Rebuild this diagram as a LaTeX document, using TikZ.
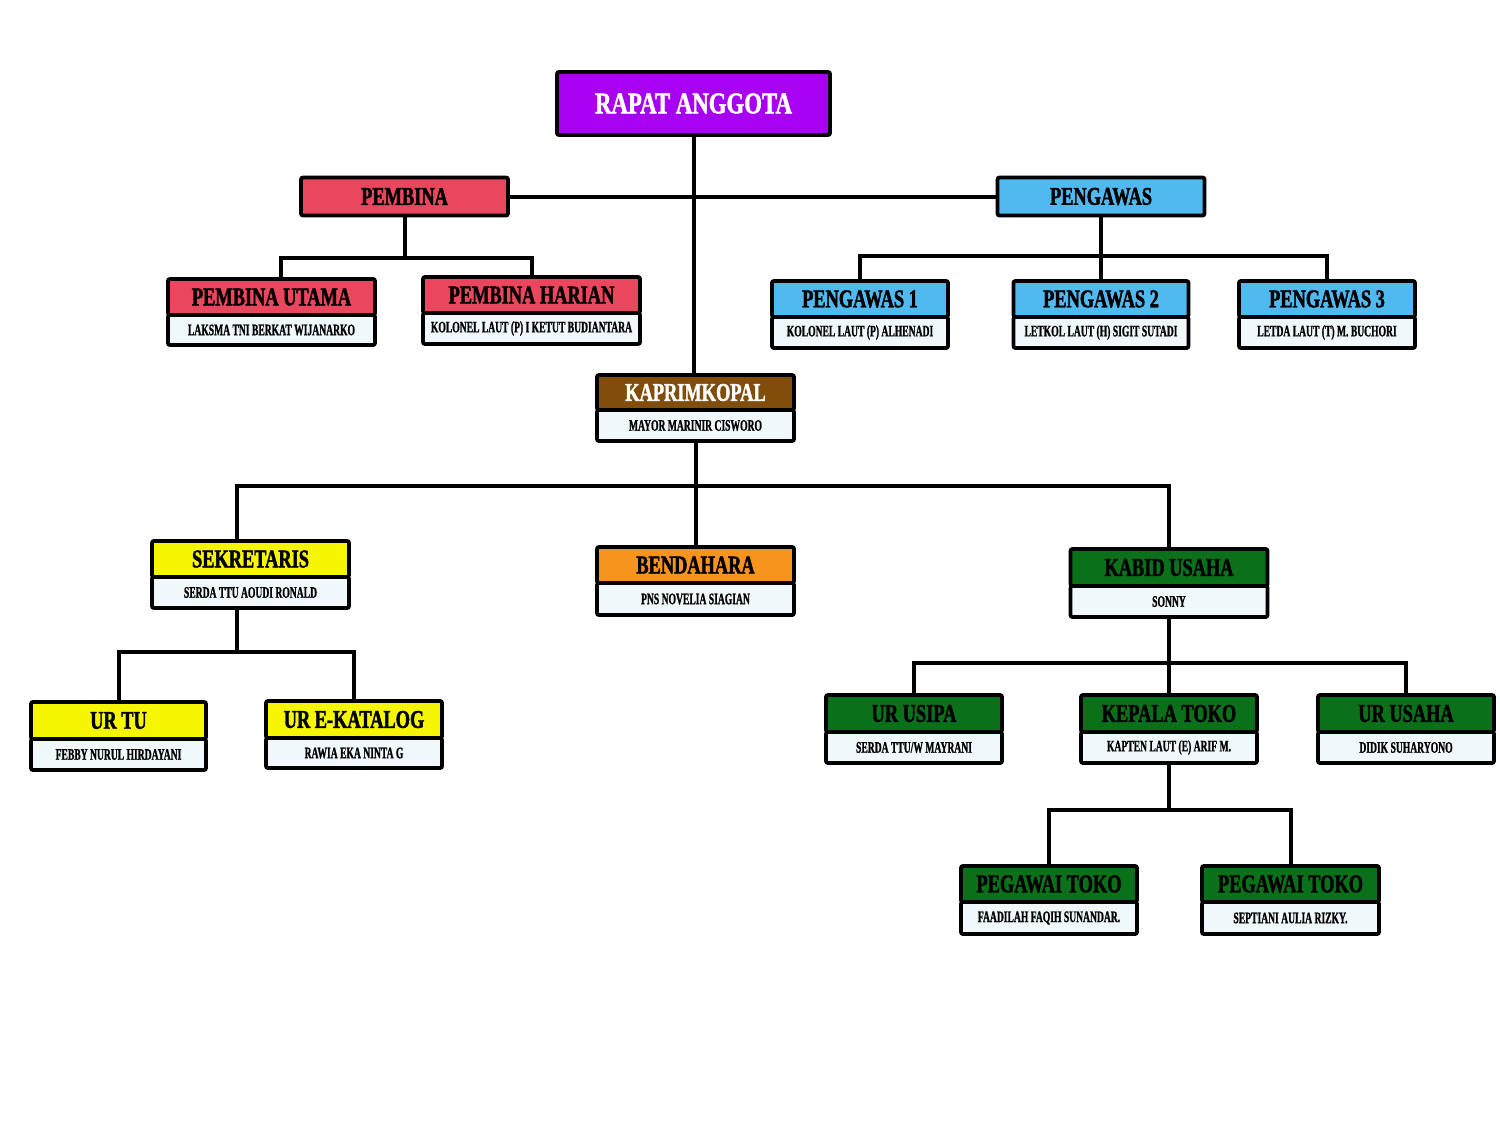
\documentclass[tikz,border=0pt]{standalone}
\usepackage{fontspec}
\newfontfamily\tfont{Liberation Serif}[FakeStretch=0.72,FakeBold=1.6]
\newfontfamily\rfont{Liberation Serif}[FakeStretch=0.76,FakeBold=1.6]
\newfontfamily\sfont{Liberation Serif}[FakeStretch=0.6,FakeBold=1]
\definecolor{cPurple}{RGB}{168,0,240}
\definecolor{cRed}{RGB}{234,70,94}
\definecolor{cBlue}{RGB}{80,186,240}
\definecolor{cBrown}{RGB}{128,78,10}
\definecolor{cYellow}{RGB}{246,246,0}
\definecolor{cOrange}{RGB}{247,148,29}
\definecolor{cGreen}{RGB}{10,112,26}
\definecolor{cSub}{RGB}{240,248,252}
\newcommand\orgbox[9]{%
  \node[hdr,#7,minimum width=#4,minimum height=#5,anchor=north] (#1) at (#2,#3) {#8};
  \node[subb,minimum width=#4,minimum height=#6,anchor=north] (#1s) at (#1.south) {#9};
}
\begin{document}
\begin{tikzpicture}[x=1pt,y=-1pt,
  conn/.style={line width=4pt},
  hdr/.style={draw,line width=3.8pt,rounded corners=2pt,inner sep=0pt,outer sep=0pt,font=\tfont\bfseries\fontsize{25.5}{27}\selectfont},
  subb/.style={draw,line width=3.8pt,rounded corners=2pt,fill=cSub,inner sep=0pt,outer sep=0pt,font=\sfont\bfseries\fontsize{16}{18}\selectfont}]
\fill[white] (0,0) rectangle (1500,1125);
\useasboundingbox (0,0) rectangle (1500,1125);

% top level
\node[hdr,fill=cPurple,text=white,minimum width=273,minimum height=63,font=\rfont\bfseries\fontsize{30}{32}\selectfont] (rapat) at (693.5,103.5) {RAPAT ANGGOTA};
\node[hdr,fill=cRed,minimum width=207,minimum height=38] (pembina) at (404.5,196.5) {PEMBINA};
\node[hdr,fill=cBlue,minimum width=207,minimum height=38] (pengawas) at (1101,196.5) {PENGAWAS};

% pembina children
\orgbox{pu}{271.5}{279}{207}{36}{30}{fill=cRed}{PEMBINA UTAMA}{LAKSMA TNI BERKAT WIJANARKO}
\orgbox{ph}{531.5}{277}{217}{36}{31}{fill=cRed}{PEMBINA HARIAN}{KOLONEL LAUT (P) I KETUT BUDIANTARA}

% pengawas children
\orgbox{pa}{860}{281}{176}{36}{31}{fill=cBlue}{PENGAWAS 1}{KOLONEL LAUT (P) ALHENADI}
\orgbox{pb}{1101}{281}{175}{36}{31}{fill=cBlue}{PENGAWAS 2}{LETKOL LAUT (H) SIGIT SUTADI}
\orgbox{pc}{1327}{281}{176}{36}{31}{fill=cBlue}{PENGAWAS 3}{LETDA LAUT (T) M. BUCHORI}

% kaprimkopal
\orgbox{kap}{695.5}{375}{197}{35}{31}{fill=cBrown,text=white}{KAPRIMKOPAL}{MAYOR MARINIR CISWORO}

% level 2
\orgbox{sek}{250.5}{541}{197}{36}{31}{fill=cYellow}{SEKRETARIS}{SERDA TTU AOUDI RONALD}
\orgbox{ben}{695.5}{547}{197}{36}{32}{fill=cOrange}{BENDAHARA}{PNS NOVELIA SIAGIAN}
\orgbox{kab}{1169}{549}{197}{37}{31}{fill=cGreen}{KABID USAHA}{SONNY}

% sekretaris children
\orgbox{urtu}{118.5}{702}{175}{37}{31}{fill=cYellow}{UR TU}{FEBBY NURUL HIRDAYANI}
\orgbox{urek}{354}{701}{176}{37}{30}{fill=cYellow}{UR E-KATALOG}{RAWIA EKA NINTA G}

% kabid children
\orgbox{usipa}{914}{695}{176}{37}{31}{fill=cGreen}{UR USIPA}{SERDA TTU/W MAYRANI}
\orgbox{kt}{1169}{695}{176}{37}{31}{fill=cGreen}{KEPALA TOKO}{KAPTEN LAUT (E) ARIF M.}
\orgbox{usaha}{1406}{695}{176}{37}{31}{fill=cGreen}{UR USAHA}{DIDIK SUHARYONO}

% kepala toko children
\orgbox{pta}{1049}{866}{176}{36}{32}{fill=cGreen}{PEGAWAI TOKO}{FAADILAH FAQIH SUNANDAR.}
\orgbox{ptb}{1290.5}{866}{177}{36}{32}{fill=cGreen}{PEGAWAI TOKO}{SEPTIANI AULIA RIZKY.}

% bus coordinates
\coordinate (bPb) at (404.5,258);
\coordinate (bPg) at (1101,256);
\coordinate (bK) at (695.5,486);
\coordinate (bS) at (237,652);
\coordinate (bKb) at (1169,663);
\coordinate (bT) at (1169,810);

% connectors
\draw[conn] (rapat.south) -- (rapat.south |- kap.north);
\draw[conn] (pembina.east) -- (pengawas.west);
\draw[conn] (pembina.south) -- (bPb);
\draw[conn] ([xshift=9.5pt]pu.north) |- (bPb) -| (ph.north);
\draw[conn] (pengawas.south) -- (pb.north);
\draw[conn] (pa.north) |- (bPg) -| (pc.north);
\draw[conn] (kaps.south) -- (ben.north);
\draw[conn] ([xshift=-13.5pt]sek.north) |- (bK) -| (kab.north);
\draw[conn] ([xshift=-13.5pt]seks.south) -- (bS);
\draw[conn] (urtu.north) |- (bS) -| (urek.north);
\draw[conn] (kabs.south) -- (kt.north);
\draw[conn] (usipa.north) |- (bKb) -| (usaha.north);
\draw[conn] (kts.south) -- (bT);
\draw[conn] (pta.north) |- (bT) -| (ptb.north);
\end{tikzpicture}
\end{document}
